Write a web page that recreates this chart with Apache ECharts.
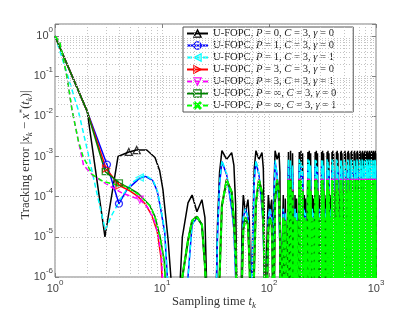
<!DOCTYPE html>
<html><head><meta charset="utf-8">
<script src="https://cdn.jsdelivr.net/npm/echarts@6/dist/echarts.min.js"></script>
<style>html,body{margin:0;padding:0;background:#fff}#c{width:415px;height:315px}</style>
</head><body><div id="c"></div>
<script>
// value used where a curve dips below the lower axis limit (|error| -> 0)
const Z = 1e-7;

const seriesNames = [
  'U-FOPC, P = 0, C = 3, γ = 0', 'U-FOPC, P = 1, C = 3, γ = 0', 'U-FOPC, P = 1, C = 3, γ = 1',
  'U-FOPC, P = 3, C = 3, γ = 0', 'U-FOPC, P = 3, C = 3, γ = 1', 'U-FOPC, P = ∞, C = 3, γ = 0',
  'U-FOPC, P = ∞, C = 3, γ = 1'
];
const pLabels = ['0', '1', '1', '3', '3', '∞', '∞'];
const gLabels = ['0', '0', '1', '0', '1', '0', '1'];
const cLabel = '3';
const xTickValues = [1, 10, 100, 1000];

// early part of each curve (t < 13)
const tBlack = [1, 2, 2.93, 3.88, 4.9, 5.8, 7.2, 8.6, 9.5, 10.2, 11.4, 12.9];
const vBlack = [1, 0.0133, 1e-5, 1e-3, 1.3e-3, 1.45e-3, 1.45e-3, 9.5e-4, 4.5e-4, 1.5e-4, 8.5e-6, Z];
const mBlack = [4, 5];

const tBlue = [1, 2, 3.06, 3.96, 4.7, 6.2, 7.0, 8.2, 9.0, 9.6, 10.6, 11.8];
const vBlue = [1, 0.0133, 6.3e-4, 6.7e-5, 1.5e-4, 2.9e-4, 3.2e-4, 2.5e-4, 1.4e-4, 6e-5, 1.3e-5, Z];
const mBlue = [2, 3];

const tCyan = [1, 1.32, 1.64, 2.0, 2.63, 2.95, 3.4, 4.3, 5.3, 6.2, 7.0, 8.2, 9.0, 9.6, 10.6, 11.8];
const vCyan = [1, 0.1, 0.015, 1.5e-3, 5.6e-5, 1.5e-5, 3.5e-5, 1.1e-4, 2.3e-4, 3e-4, 3.4e-4, 2.6e-4, 1.5e-4, 6.5e-5, 1.4e-5, Z];
const mCyan = [9];

const tRed = [1, 2, 3, 4, 5, 6, 7, 8, 9, 9.8, 10.4];
const vRed = [1, 0.0133, 5e-4, 1.9e-4, 1.4e-4, 1e-4, 6.5e-5, 3.5e-5, 1.4e-5, 3e-6, Z];
const mRed = [2, 3];

const tMag = [1, 1.11, 1.29, 1.44, 1.65, 1.85, 2.05, 2.3, 2.7, 3.3, 4.2, 5.2, 6.2, 7.3, 8.3, 9.2, 9.9, 10.5];
const vMag = [1, 0.71, 0.1, 0.015, 2.5e-3, 6e-4, 4.5e-4, 3.2e-4, 2.5e-4, 1.8e-4, 1.25e-4, 1e-4, 8.5e-5, 5.5e-5, 3e-5, 1.2e-5, 3e-6, Z];
const mMag = [12];

const tGreen = [1, 2, 2.95, 4, 5, 6, 7.7, 8.6, 9.6, 10.5, 11.2];
const vGreen = [1, 0.0133, 4.2e-4, 2.2e-4, 1.6e-4, 1.2e-4, 6e-5, 3.2e-5, 1e-5, 2.5e-6, Z];
const mGreen = [2, 3];

const tLime = [1, 1.11, 1.29, 1.44, 1.65, 1.83, 2.22, 2.81, 3.64, 4.3, 5, 6, 7.7, 8.6, 9.6, 10.5, 11.2];
const vLime = [1, 0.71, 0.1, 0.015, 2.5e-3, 1e-3, 3.6e-4, 2.4e-4, 2e-4, 1.9e-4, 1.55e-4, 1.15e-4, 6e-5, 3.2e-5, 1e-5, 2.5e-6, Z];
const mLime = [];

// later oscillating part (shared sampling times)
const tLate = [
  14.2, 15.5, 17.5, 19.1, 21.2, 23.6, 25.2, 26.6,
  31.8, 33, 34.5, 36.3, 40.2, 44.8, 47, 48.8, 50.5,
  54.5, 56, 57.5, 60.3, 63.6, 65.5, 67.8,
  69.2, 70.8, 72.8, 75.5, 80.5, 86, 88.5, 90, 91.8,
  95, 96.5, 98.5, 102, 106, 107.8, 109,
  110.5, 112, 114, 119, 124, 126.5, 128.5,
  136, 139, 142, 147, 152, 156, 159, 163, 166, 171,
  175, 178, 181, 187, 192, 195, 199, 202, 206, 211,
  214, 217, 220, 226, 231, 234, 238, 241, 245, 250,
  254, 257, 260, 265, 270, 274, 277, 281, 284, 289,
  293, 296, 299, 305, 310, 313, 317, 320, 324, 329,
  332, 335, 338, 344, 349, 352, 356, 359, 363, 368,
  372, 375, 378, 383, 388, 392, 395, 399, 402, 407,
  411, 414, 417, 422, 427, 431, 434, 438, 441, 446,
  450, 453, 456, 462, 467, 470, 474, 477, 481, 486,
  490, 493, 496, 501, 506, 510, 513, 517, 520, 525,
  529, 532, 535, 540, 545, 549, 552, 556, 559, 564,
  568, 571, 574, 580, 585, 588, 592, 595, 599, 604,
  607, 610, 613, 619, 624, 627, 631, 634, 638, 643,
  647, 650, 653, 658, 663, 667, 670, 674, 677, 682,
  686, 689, 692, 698, 703, 706, 710, 713, 717, 722,
  725, 728, 731, 737, 742, 745, 749, 752, 756, 761,
  765, 768, 771, 776, 781, 785, 788, 792, 795, 800,
  804, 807, 810, 815, 820, 824, 827, 831, 834, 839,
  843, 846, 849, 855, 860, 863, 867, 870, 874, 879,
  883, 886, 889, 894, 899, 903, 906, 910, 913, 918,
  922, 925, 928, 933, 938, 942, 945, 949, 952, 957,
  961, 964, 967, 973, 978, 981, 985, 988, 992, 997
];
const blackLate = [
  Z, 1e-5, 7e-5, 1.1e-4, 4.2e-5, 8.4e-5, 3e-5, Z,
  Z, 2e-5, 4e-4, 1.4e-3, 8.5e-4, 1.25e-3, 6e-4, 6e-5, Z,
  Z, 2e-5, 1.1e-4, 4e-5, 8.5e-5, 2.5e-5, Z,
  Z, 3e-5, 5e-4, 1.4e-3, 8.5e-4, 1.25e-3, 5e-4, 5e-5, Z,
  Z, 2e-5, 1.1e-4, 4e-5, 8.5e-5, 2e-5, Z,
  Z, 3e-4, 1.4e-3, 8.5e-4, 1.25e-3, 4e-4, Z,
  1.1e-4, Z, 9e-5, Z, 1.3e-3, Z, 1.4e-3, Z, 1.2e-3, Z,
  1.1e-4, Z, 9e-5, Z, 1.3e-3, Z, 1.4e-3, Z, 1.2e-3, Z,
  1.1e-4, Z, 9e-5, Z, 1.3e-3, Z, 1.4e-3, Z, 1.2e-3, Z,
  1.1e-4, Z, 9e-5, Z, 1.3e-3, Z, 1.4e-3, Z, 1.2e-3, Z,
  1.1e-4, Z, 9e-5, Z, 1.3e-3, Z, 1.4e-3, Z, 1.2e-3, Z,
  1.1e-4, Z, 9e-5, Z, 1.3e-3, Z, 1.4e-3, Z, 1.2e-3, Z,
  1.1e-4, Z, 9e-5, Z, 1.3e-3, Z, 1.4e-3, Z, 1.2e-3, Z,
  1.1e-4, Z, 9e-5, Z, 1.3e-3, Z, 1.4e-3, Z, 1.2e-3, Z,
  1.1e-4, Z, 9e-5, Z, 1.3e-3, Z, 1.4e-3, Z, 1.2e-3, Z,
  1.1e-4, Z, 9e-5, Z, 1.3e-3, Z, 1.4e-3, Z, 1.2e-3, Z,
  1.1e-4, Z, 9e-5, Z, 1.3e-3, Z, 1.4e-3, Z, 1.2e-3, Z,
  1.1e-4, Z, 9e-5, Z, 1.3e-3, Z, 1.4e-3, Z, 1.2e-3, Z,
  1.1e-4, Z, 9e-5, Z, 1.3e-3, Z, 1.4e-3, Z, 1.2e-3, Z,
  1.1e-4, Z, 9e-5, Z, 1.3e-3, Z, 1.4e-3, Z, 1.2e-3, Z,
  1.1e-4, Z, 9e-5, Z, 1.3e-3, Z, 1.4e-3, Z, 1.2e-3, Z,
  1.1e-4, Z, 9e-5, Z, 1.3e-3, Z, 1.4e-3, Z, 1.2e-3, Z,
  1.1e-4, Z, 9e-5, Z, 1.3e-3, Z, 1.4e-3, Z, 1.2e-3, Z,
  1.1e-4, Z, 9e-5, Z, 1.3e-3, Z, 1.4e-3, Z, 1.2e-3, Z,
  1.1e-4, Z, 9e-5, Z, 1.3e-3, Z, 1.4e-3, Z, 1.2e-3, Z,
  1.1e-4, Z, 9e-5, Z, 1.3e-3, Z, 1.4e-3, Z, 1.2e-3, Z,
  1.1e-4, Z, 9e-5, Z, 1.3e-3, Z, 1.4e-3, Z, 1.2e-3, Z,
  1.1e-4, Z, 9e-5, Z, 1.3e-3, Z, 1.4e-3, Z, 1.2e-3, Z
];
const blueLate = [
  Z, Z, 1e-6, 2e-5, 3e-5, 2e-5, 2e-6, Z,
  Z, 1e-5, 2e-4, 7.5e-4, 3.5e-4, 5e-5, 1.5e-5, 1e-6, Z,
  Z, 2e-6, 3e-5, 5e-5, 3e-5, 4e-6, Z,
  Z, 1.5e-5, 2.5e-4, 7.5e-4, 3.5e-4, 5e-5, 1.5e-5, 1e-6, Z,
  Z, 2e-6, 3e-5, 5e-5, 3e-5, 4e-6, Z,
  Z, 1.5e-4, 7.5e-4, 3.5e-4, 5e-5, 5e-6, Z,
  5e-5, Z, 4e-5, Z, 6e-4, Z, 6e-4, Z, 4e-4, Z,
  5e-5, Z, 4e-5, Z, 6e-4, Z, 6e-4, Z, 4e-4, Z,
  5e-5, Z, 4e-5, Z, 6e-4, Z, 6e-4, Z, 4e-4, Z,
  5e-5, Z, 4e-5, Z, 6e-4, Z, 6e-4, Z, 4e-4, Z,
  5e-5, Z, 4e-5, Z, 6e-4, Z, 6e-4, Z, 4e-4, Z,
  5e-5, Z, 4e-5, Z, 4.5e-4, Z, 4.5e-4, Z, 4.5e-4, Z,
  5e-5, Z, 4e-5, Z, 4.5e-4, Z, 4.5e-4, Z, 4.5e-4, Z,
  5e-5, Z, 4e-5, Z, 4.5e-4, Z, 4.5e-4, Z, 4.5e-4, Z,
  5e-5, Z, 4e-5, Z, 4.5e-4, Z, 4.5e-4, Z, 4.5e-4, Z,
  5e-5, Z, 4e-5, Z, 4.5e-4, Z, 4.5e-4, Z, 4.5e-4, Z,
  5e-5, Z, 4e-5, Z, 4.5e-4, Z, 4.5e-4, Z, 4.5e-4, Z,
  5e-5, Z, 4e-5, Z, 4.5e-4, Z, 4.5e-4, Z, 4.5e-4, Z,
  5e-5, Z, 4e-5, Z, 4.5e-4, Z, 4.5e-4, Z, 4.5e-4, Z,
  5e-5, Z, 4e-5, Z, 4.5e-4, Z, 4.5e-4, Z, 4.5e-4, Z,
  5e-5, Z, 4e-5, Z, 4.5e-4, Z, 4.5e-4, Z, 4.5e-4, Z,
  5e-5, Z, 4e-5, Z, 4.5e-4, Z, 4.5e-4, Z, 4.5e-4, Z,
  5e-5, Z, 4e-5, Z, 4.5e-4, Z, 4.5e-4, Z, 4.5e-4, Z,
  5e-5, Z, 4e-5, Z, 4.5e-4, Z, 4.5e-4, Z, 4.5e-4, Z,
  5e-5, Z, 4e-5, Z, 4.5e-4, Z, 4.5e-4, Z, 4.5e-4, Z,
  5e-5, Z, 4e-5, Z, 4.5e-4, Z, 4.5e-4, Z, 4.5e-4, Z,
  5e-5, Z, 4e-5, Z, 4.5e-4, Z, 4.5e-4, Z, 4.5e-4, Z,
  5e-5, Z, 4e-5, Z, 4.5e-4, Z, 4.5e-4, Z, 4.5e-4, Z
];
const cyanLate = [
  Z, Z, 1e-6, 2e-5, 3.2e-5, 2e-5, 2e-6, Z,
  Z, 1.2e-5, 2.2e-4, 8e-4, 3.8e-4, 6e-5, 1.5e-5, 1e-6, Z,
  Z, 2e-6, 3e-5, 5e-5, 3e-5, 4e-6, Z,
  Z, 1.5e-5, 2.5e-4, 8e-4, 3.8e-4, 6e-5, 1.5e-5, 1e-6, Z,
  Z, 2e-6, 3e-5, 5e-5, 3e-5, 4e-6, Z,
  Z, 1.5e-4, 8e-4, 3.8e-4, 6e-5, 5e-6, Z,
  5e-5, Z, 4e-5, Z, 8.5e-4, Z, 8e-4, Z, 6e-4, Z,
  5e-5, Z, 4e-5, Z, 8.5e-4, Z, 8e-4, Z, 6e-4, Z,
  5e-5, Z, 4e-5, Z, 8.5e-4, Z, 8e-4, Z, 6e-4, Z,
  5e-5, Z, 4e-5, Z, 8.5e-4, Z, 8e-4, Z, 6e-4, Z,
  5e-5, Z, 4e-5, Z, 8.5e-4, Z, 8e-4, Z, 6e-4, Z,
  5e-5, Z, 4e-5, Z, 8.5e-4, Z, 8e-4, Z, 6e-4, Z,
  5e-5, Z, 4e-5, Z, 8.5e-4, Z, 8e-4, Z, 6e-4, Z,
  5e-5, Z, 4e-5, Z, 8.5e-4, Z, 8e-4, Z, 6e-4, Z,
  5e-5, Z, 4e-5, Z, 8.5e-4, Z, 8e-4, Z, 6e-4, Z,
  5e-5, Z, 4e-5, Z, 8.5e-4, Z, 8e-4, Z, 6e-4, Z,
  5e-5, Z, 4e-5, Z, 8.5e-4, Z, 8e-4, Z, 6e-4, Z,
  5e-5, Z, 4e-5, Z, 8.5e-4, Z, 8e-4, Z, 6e-4, Z,
  5e-5, Z, 4e-5, Z, 8.5e-4, Z, 8e-4, Z, 6e-4, Z,
  5e-5, Z, 4e-5, Z, 8.5e-4, Z, 8e-4, Z, 6e-4, Z,
  5e-5, Z, 4e-5, Z, 8.5e-4, Z, 8e-4, Z, 6e-4, Z,
  5e-5, Z, 4e-5, Z, 8.5e-4, Z, 8e-4, Z, 6e-4, Z,
  5e-5, Z, 4e-5, Z, 8.5e-4, Z, 8e-4, Z, 6e-4, Z,
  5e-5, Z, 4e-5, Z, 8.5e-4, Z, 8e-4, Z, 6e-4, Z,
  5e-5, Z, 4e-5, Z, 8.5e-4, Z, 8e-4, Z, 6e-4, Z,
  5e-5, Z, 4e-5, Z, 8.5e-4, Z, 8e-4, Z, 6e-4, Z,
  5e-5, Z, 4e-5, Z, 8.5e-4, Z, 8e-4, Z, 6e-4, Z,
  5e-5, Z, 4e-5, Z, 8.5e-4, Z, 8e-4, Z, 6e-4, Z
];
// P = 3 curves (red, magenta) share this late part
const redLate = [
  Z, 1e-6, 8e-6, 2.5e-5, 3.2e-5, 2e-5, 2e-6, Z,
  Z, Z, 1e-6, 6e-5, 2.7e-4, 1.3e-4, 2.5e-5, 5e-6, Z,
  Z, 1e-6, 1.5e-5, 3e-5, 2e-5, 3e-6, Z,
  Z, Z, 2e-6, 7e-5, 2.7e-4, 1.3e-4, 2.5e-5, 5e-6, Z,
  Z, 1e-6, 1.5e-5, 3e-5, 2e-5, 3e-6, Z,
  Z, 1e-6, 8e-5, 2.7e-4, 1.3e-4, 1.5e-5, Z,
  3e-5, Z, 2.5e-5, Z, 2.8e-4, Z, 2.8e-4, Z, 1.5e-4, Z,
  3e-5, Z, 2.5e-5, Z, 2.8e-4, Z, 2.8e-4, Z, 1.5e-4, Z,
  3e-5, Z, 2.5e-5, Z, 2.8e-4, Z, 2.8e-4, Z, 1.5e-4, Z,
  3e-5, Z, 2.5e-5, Z, 2.8e-4, Z, 2.8e-4, Z, 1.5e-4, Z,
  3e-5, Z, 2.5e-5, Z, 2.8e-4, Z, 2.8e-4, Z, 1.5e-4, Z,
  3e-5, Z, 2.5e-5, Z, 2.8e-4, Z, 2.8e-4, Z, 1.5e-4, Z,
  3e-5, Z, 2.5e-5, Z, 2.8e-4, Z, 2.8e-4, Z, 1.5e-4, Z,
  3e-5, Z, 2.5e-5, Z, 2.8e-4, Z, 2.8e-4, Z, 1.5e-4, Z,
  3e-5, Z, 2.5e-5, Z, 2.8e-4, Z, 2.8e-4, Z, 1.5e-4, Z,
  3e-5, Z, 2.5e-5, Z, 2.8e-4, Z, 2.8e-4, Z, 1.5e-4, Z,
  3e-5, Z, 2.5e-5, Z, 2.8e-4, Z, 2.8e-4, Z, 1.5e-4, Z,
  3e-5, Z, 2.5e-5, Z, 2.8e-4, Z, 2.8e-4, Z, 1.5e-4, Z,
  3e-5, Z, 2.5e-5, Z, 2.8e-4, Z, 2.8e-4, Z, 1.5e-4, Z,
  3e-5, Z, 2.5e-5, Z, 2.8e-4, Z, 2.8e-4, Z, 1.5e-4, Z,
  3e-5, Z, 2.5e-5, Z, 2.8e-4, Z, 2.8e-4, Z, 1.5e-4, Z,
  3e-5, Z, 2.5e-5, Z, 2.8e-4, Z, 2.8e-4, Z, 1.5e-4, Z,
  3e-5, Z, 2.5e-5, Z, 2.8e-4, Z, 2.8e-4, Z, 1.5e-4, Z,
  3e-5, Z, 2.5e-5, Z, 2.8e-4, Z, 2.8e-4, Z, 1.5e-4, Z,
  3e-5, Z, 2.5e-5, Z, 2.8e-4, Z, 2.8e-4, Z, 1.5e-4, Z,
  3e-5, Z, 2.5e-5, Z, 2.8e-4, Z, 2.8e-4, Z, 1.5e-4, Z,
  3e-5, Z, 2.5e-5, Z, 2.8e-4, Z, 2.8e-4, Z, 1.5e-4, Z,
  3e-5, Z, 2.5e-5, Z, 2.8e-4, Z, 2.8e-4, Z, 1.5e-4, Z
];
// P = ∞ curves (dark green, light green) share this late part
const greenLate = [
  Z, 1e-6, 8e-6, 2.5e-5, 3.2e-5, 2e-5, 2e-6, Z,
  Z, Z, 1e-6, 6e-5, 2.6e-4, 1.3e-4, 2.5e-5, 5e-6, Z,
  Z, 1e-6, 1.5e-5, 3e-5, 2e-5, 3e-6, Z,
  Z, Z, 2e-6, 7e-5, 2.6e-4, 1.3e-4, 2.5e-5, 5e-6, Z,
  Z, 1e-6, 1.5e-5, 3e-5, 2e-5, 3e-6, Z,
  Z, 1e-6, 8e-5, 2.6e-4, 1.3e-4, 1.5e-5, Z,
  3e-5, Z, 2.5e-5, Z, 2.6e-4, Z, 2.6e-4, Z, 1.4e-4, Z,
  3e-5, Z, 2.5e-5, Z, 2.6e-4, Z, 2.6e-4, Z, 1.4e-4, Z,
  3e-5, Z, 2.5e-5, Z, 2.6e-4, Z, 2.6e-4, Z, 1.4e-4, Z,
  3e-5, Z, 2.5e-5, Z, 2.6e-4, Z, 2.6e-4, Z, 1.4e-4, Z,
  3e-5, Z, 2.5e-5, Z, 2.6e-4, Z, 2.6e-4, Z, 1.4e-4, Z,
  3e-5, Z, 2.5e-5, Z, 2.6e-4, Z, 2.6e-4, Z, 1.4e-4, Z,
  3e-5, Z, 2.5e-5, Z, 2.6e-4, Z, 2.6e-4, Z, 1.4e-4, Z,
  3e-5, Z, 2.5e-5, Z, 2.6e-4, Z, 2.6e-4, Z, 1.4e-4, Z,
  3e-5, Z, 2.5e-5, Z, 2.6e-4, Z, 2.6e-4, Z, 1.4e-4, Z,
  3e-5, Z, 2.5e-5, Z, 2.6e-4, Z, 2.6e-4, Z, 1.4e-4, Z,
  3e-5, Z, 2.5e-5, Z, 2.6e-4, Z, 2.6e-4, Z, 1.4e-4, Z,
  3e-5, Z, 2.5e-5, Z, 2.6e-4, Z, 2.6e-4, Z, 1.4e-4, Z,
  3e-5, Z, 2.5e-5, Z, 2.6e-4, Z, 2.6e-4, Z, 1.4e-4, Z,
  3e-5, Z, 2.5e-5, Z, 2.6e-4, Z, 2.6e-4, Z, 1.4e-4, Z,
  3e-5, Z, 2.5e-5, Z, 2.6e-4, Z, 2.6e-4, Z, 1.4e-4, Z,
  3e-5, Z, 2.5e-5, Z, 2.6e-4, Z, 2.6e-4, Z, 1.4e-4, Z,
  3e-5, Z, 2.5e-5, Z, 2.6e-4, Z, 2.6e-4, Z, 1.4e-4, Z,
  3e-5, Z, 2.5e-5, Z, 2.6e-4, Z, 2.6e-4, Z, 1.4e-4, Z,
  3e-5, Z, 2.5e-5, Z, 2.6e-4, Z, 2.6e-4, Z, 1.4e-4, Z,
  3e-5, Z, 2.5e-5, Z, 2.6e-4, Z, 2.6e-4, Z, 1.4e-4, Z,
  3e-5, Z, 2.5e-5, Z, 2.6e-4, Z, 2.6e-4, Z, 1.4e-4, Z,
  3e-5, Z, 2.5e-5, Z, 2.6e-4, Z, 2.6e-4, Z, 1.4e-4, Z
];

const XPATH = 'path://M0,1.6L1.6,0L5,3.4L8.4,0L10,1.6L6.6,5L10,8.4L8.4,10L5,6.6L1.6,10L0,8.4L3.4,5Z';
const defs = [
  {t: tBlack, v: vBlack, late: blackLate, m: mBlack, c: '#000000', dash: 'solid', sym: 'triangle', rot: 0, size: 7, lw: 1.5},
  {t: tBlue, v: vBlue, late: blueLate, m: mBlue, c: '#0000ff', dash: 'solid', sym: 'circle', rot: 0, size: 7, lw: 1.5},
  {t: tCyan, v: vCyan, late: cyanLate, m: mCyan, c: '#00ffff', dash: [5, 3], sym: 'triangle', rot: 90, size: 7, lw: 1.5},
  {t: tRed, v: vRed, late: redLate, m: mRed, c: '#ff0000', dash: 'solid', sym: 'triangle', rot: -90, size: 7, lw: 1.5},
  {t: tMag, v: vMag, late: redLate, m: mMag, c: '#ff00ff', dash: [5, 3], sym: 'triangle', rot: 180, size: 7, lw: 1.5},
  {t: tGreen, v: vGreen, late: greenLate, m: mGreen, c: '#008000', dash: 'solid', sym: 'rect', rot: 0, size: 6, lw: 2.1},
  {t: tLime, v: vLime, late: greenLate, m: mLime, c: '#00ff00', dash: [5, 3], sym: XPATH, rot: 0, size: 6, lw: 2.1}
];

const SERIF = '"Liberation Serif", "DejaVu Serif", serif';
const SANS = '"Liberation Sans", Arial, sans-serif';
const gridCol = '#c4c4c4';
const axisCol = '#808080';

// minor grid positions (log decades)
const minorLines = [];
for (const d of [1, 10, 100]) for (let k = 2; k <= 9; k++) minorLines.push({xAxis: d * k});
for (const d of [1e-6, 1e-5, 1e-4, 1e-3, 1e-2, 1e-1]) for (let k = 2; k <= 9; k++) minorLines.push({yAxis: +(d * k).toPrecision(3)});

function pow10Label(val) {
  const e = Math.log10(val);
  const r = Math.round(e);
  if (Math.abs(e - r) > 1e-6) return '';
  return '{b|10}{s|' + (r < 0 ? '-' + (-r) : r) + '}';
}
const labelRich = {
  b: {fontFamily: SANS, fontSize: 11, color: '#444', lineHeight: 20, verticalAlign: 'middle'},
  s: {fontFamily: SANS, fontSize: 8, color: '#444', lineHeight: 9, verticalAlign: 'top'}
};

const series = [{
  type: 'line', name: '_grid', data: [[1000, 1e-6]], symbol: 'none', z: 1, silent: true,
  lineStyle: {opacity: 0},
  markLine: {silent: true, symbol: ['none', 'none'], label: {show: false}, animation: false,
    lineStyle: {color: gridCol, type: [1, 2], width: 1}, emphasis: {disabled: true}, data: minorLines}
}];
defs.forEach((d, i) => {
  const filled = d.sym === XPATH;
  const common = {
    type: 'line', name: seriesNames[i], z: 2 + i * 0.01,
    showSymbol: false, symbol: d.sym, symbolRotate: d.rot, symbolSize: d.size,
    itemStyle: {color: filled ? d.c : 'rgba(255,255,255,0)', borderColor: d.c, borderWidth: filled ? 0 : 1.3},
    emphasis: {disabled: true}, animation: false, clip: true
  };
  // early part (legend style) and the dense oscillating part
  series.push(Object.assign({}, common, {
    data: d.t.map((x, j) => [x, d.v[j]]),
    lineStyle: {color: d.c, width: 1.5, type: d.dash}
  }));
  series.push(Object.assign({}, common, {
    data: tLate.map((x, j) => [x, d.late[j]]),
    lineStyle: {color: d.c, width: d.lw, type: d.dash}
  }));
});
defs.forEach((d, i) => {
  if (!d.m.length) return;
  series.push({
    type: 'scatter', name: '_m' + i, z: 3,
    data: d.m.map(j => [d.t[j], d.v[j]]),
    symbol: d.sym, symbolRotate: d.rot, symbolSize: d.size,
    itemStyle: {color: 'rgba(255,255,255,0)', borderColor: d.c, borderWidth: 1.3},
    emphasis: {disabled: true}, animation: false, silent: true
  });
});

const titleRich = {
  r: {fontFamily: SERIF, fontSize: 12.5, fill: '#333', lineHeight: 16, verticalAlign: 'middle'},
  i: {fontFamily: SERIF, fontSize: 12.5, fill: '#333', lineHeight: 16, verticalAlign: 'middle', fontStyle: 'italic'},
  sb: {fontFamily: SERIF, fontSize: 9, fill: '#333', lineHeight: 9, verticalAlign: 'bottom', fontStyle: 'italic'},
  sp: {fontFamily: SERIF, fontSize: 9, fill: '#333', lineHeight: 9, verticalAlign: 'top'}
};

const chart = echarts.init(document.getElementById('c'), null, {renderer: 'canvas'});
chart.setOption({
  animation: false,
  backgroundColor: '#fff',
  grid: {left: 55, right: 39, top: 24, bottom: 38, show: true, borderColor: axisCol, borderWidth: 1, backgroundColor: 'rgba(0,0,0,0)'},
  xAxis: [{
    type: 'log', logBase: 10, min: xTickValues[0], max: xTickValues[xTickValues.length - 1], position: 'bottom',
    axisLine: {show: false},
    axisTick: {show: true, inside: true, length: 4, lineStyle: {color: axisCol}},
    axisLabel: {margin: 2, formatter: pow10Label, rich: labelRich},
    splitLine: {show: true, lineStyle: {color: gridCol, type: [1, 2], width: 1}}
  }, {
    type: 'log', logBase: 10, min: 1, max: 1000, position: 'top',
    axisLine: {show: false}, axisLabel: {show: false}, splitLine: {show: false},
    axisTick: {show: true, inside: true, length: 4, lineStyle: {color: axisCol}}
  }],
  yAxis: [{
    type: 'log', logBase: 10, min: 1e-6, max: 2, position: 'left',
    axisLine: {show: false},
    axisTick: {show: true, inside: true, length: 4, lineStyle: {color: axisCol}},
    axisLabel: {margin: 2, formatter: pow10Label, rich: labelRich},
    splitLine: {show: true, lineStyle: {color: gridCol, type: [1, 2], width: 1}}
  }, {
    type: 'log', logBase: 10, min: 1e-6, max: 2, position: 'right',
    axisLine: {show: false}, axisLabel: {show: false}, splitLine: {show: false},
    axisTick: {show: true, inside: true, length: 4, lineStyle: {color: axisCol}}
  }],
  legend: {
    data: seriesNames, orient: 'vertical', left: 183, top: 27,
    itemWidth: 21, itemHeight: 9, itemGap: 1, padding: [1, 17, 1, 3],
    backgroundColor: '#fff', borderColor: '#555', borderWidth: 1, borderRadius: 0,
    selectedMode: false, itemStyle: {borderWidth: 1.3},
    textStyle: {fontFamily: SERIF, fontSize: 10.6, color: '#222', lineHeight: 10,
      rich: {
        n: {fontFamily: SERIF, fontSize: 10.6, color: '#222', lineHeight: 10},
        i: {fontFamily: SERIF, fontSize: 10.6, color: '#222', lineHeight: 10, fontStyle: 'italic'}
      }},
    formatter: function (name) {
      const i = seriesNames.indexOf(name);
      return '{n|U-FOPC, }{i|P}{n| = ' + pLabels[i] + ', }{i|C}{n| = ' + cLabel + ', }{i|γ}{n| = ' + gLabels[i] + '}';
    }
  },
  graphic: [{
    type: 'text', x: 214, y: 302, silent: true,
    style: {text: '{r|Sampling time }{i|t}{sb|k}', align: 'center', verticalAlign: 'middle', rich: titleRich}
  }, {
    type: 'text', x: 26, y: 155, rotation: Math.PI / 2, silent: true,
    style: {
      text: '{r|Tracking error |}{i|x}{sb|k}{r| − }{i|x}{sp|*}{r|(}{i|t}{sb|k}{r|)|}',
      align: 'center', verticalAlign: 'middle', rich: titleRich
    }
  }],
  series: series
});
</script>
</body></html>
